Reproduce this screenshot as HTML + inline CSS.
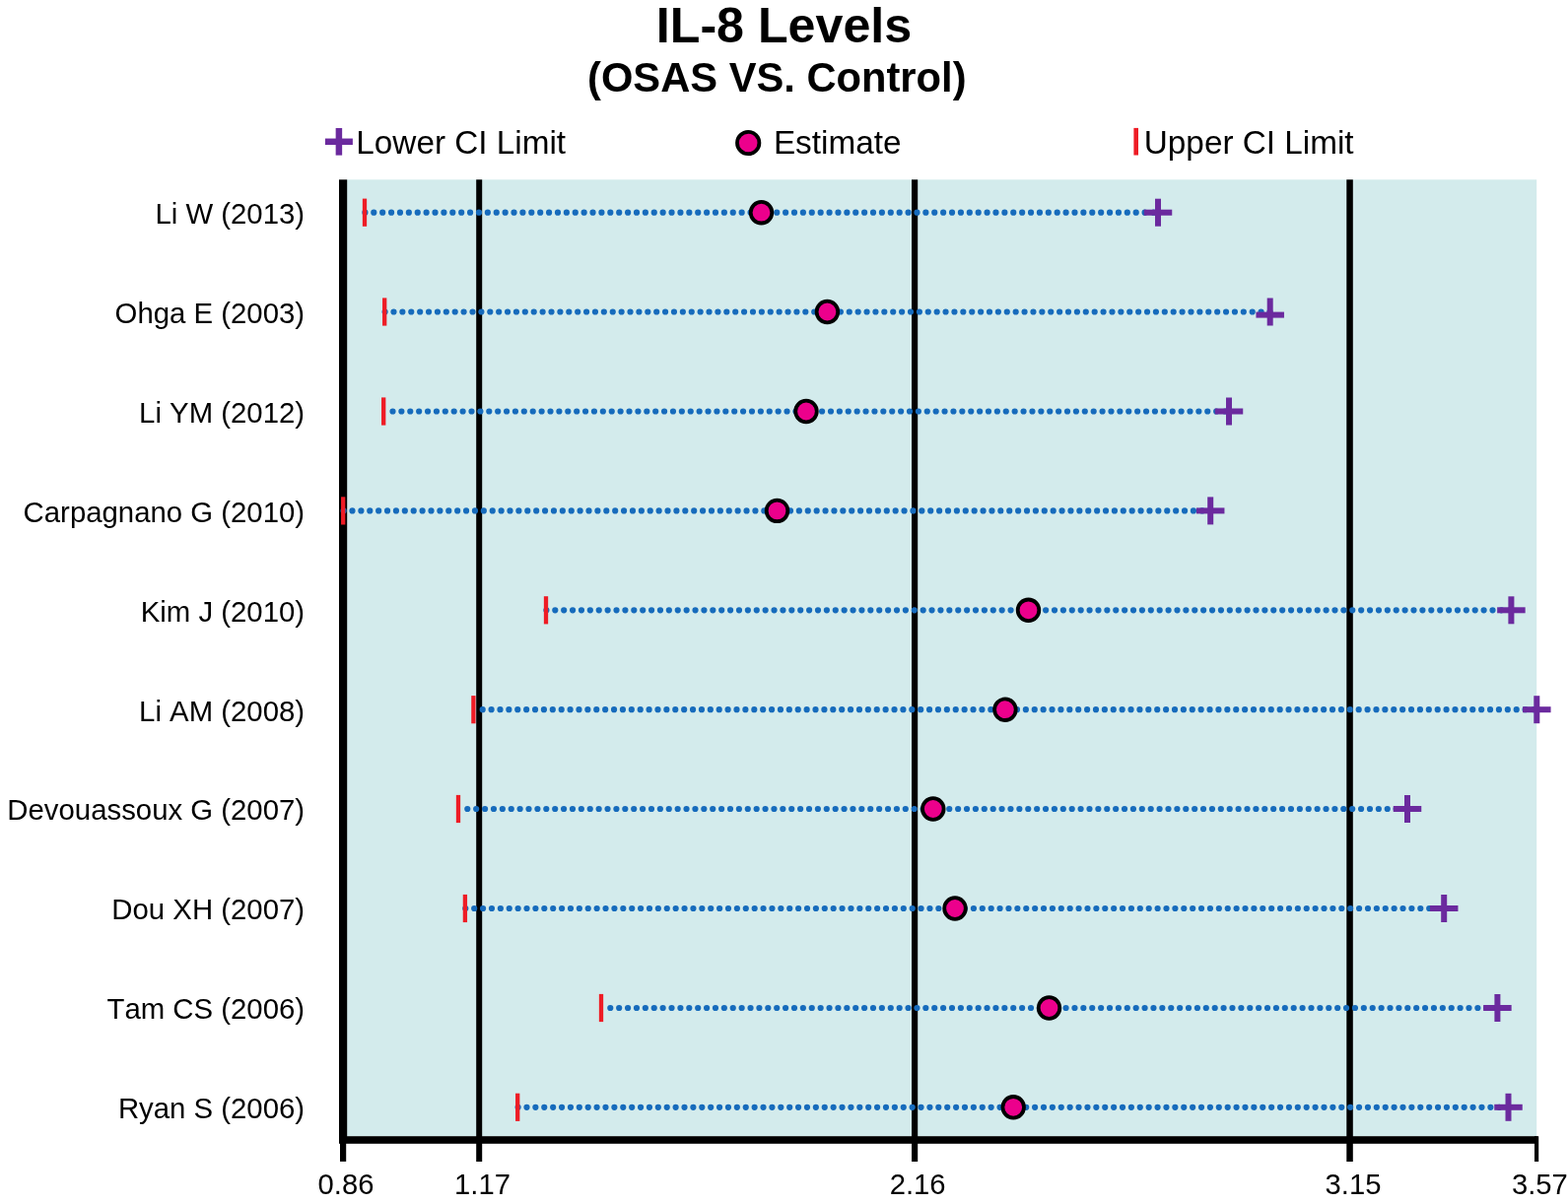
<!DOCTYPE html><html><head><meta charset="utf-8"><title>IL-8 Levels (OSAS VS. Control)</title>
<style>html,body{margin:0;padding:0;background:#fff;}body{width:1591px;height:1222px;overflow:hidden;}svg{display:block;}text{font-family:'Liberation Sans', Arial, Helvetica, sans-serif;fill:#000;font-kerning:none;font-feature-settings:"kern" 0;}</style></head><body>
<svg width="1591" height="1222" viewBox="0 0 1591 1222">
<rect x="0" y="0" width="1591" height="1222" fill="#fff"/>
<text x="795.5" y="42.8" font-size="50.2" font-weight="bold" text-anchor="middle">IL-8 Levels</text>
<text x="788.3" y="92.9" font-size="41.7" font-weight="bold" text-anchor="middle">(OSAS VS. Control)</text>
<rect x="329.90" y="140.55" width="28.00" height="6.50" fill="#6b2a9e"/><rect x="340.65" y="130.00" width="6.50" height="27.60" fill="#6b2a9e"/>
<text x="361.3" y="155.8" font-size="33.3">Lower CI Limit</text>
<circle cx="759.2" cy="145" r="11.2" fill="#ec008c" stroke="#000" stroke-width="3.8"/>
<text x="784.9" y="156.1" font-size="33.3">Estimate</text>
<rect x="1150.4" y="129.9" width="4.6" height="27.6" fill="#ee1c25"/>
<text x="1160.8" y="155.8" font-size="33.3">Upper CI Limit</text>
<rect x="352" y="182.3" width="1207.2" height="971" fill="#d3ebec"/>
<rect x="344" y="182.3" width="8.2" height="974.2" fill="#000"/>
<rect x="345" y="1156" width="6.2" height="22.9" fill="#000"/>
<rect x="483.2" y="182.3" width="6.0" height="996.7" fill="#000"/>
<rect x="925.0" y="182.3" width="6.2" height="996.7" fill="#000"/>
<rect x="1366.3" y="182.3" width="6.5" height="996.7" fill="#000"/>
<rect x="344" y="1153.2" width="1215.8" height="7.6" fill="#000"/>
<rect x="1557" y="1153.2" width="4.2" height="25.8" fill="#000"/>
<text x="351.0" y="1212.4" font-size="29.2" text-anchor="middle">0.86</text>
<text x="489.5" y="1212.4" font-size="29.2" text-anchor="middle">1.17</text>
<text x="931.2" y="1212.4" font-size="29.2" text-anchor="middle">2.16</text>
<text x="1373.0" y="1212.4" font-size="29.2" text-anchor="middle">3.15</text>
<text x="1562.4" y="1212.4" font-size="29.2" text-anchor="middle">3.57</text>
<text x="309.1" y="227.0" font-size="29.35" text-anchor="end">Li W (2013)</text>
<text x="309.1" y="327.8" font-size="29.35" text-anchor="end">Ohga E (2003)</text>
<text x="309.1" y="428.8" font-size="29.35" text-anchor="end">Li YM (2012)</text>
<text x="309.1" y="529.7" font-size="29.35" text-anchor="end">Carpagnano G (2010)</text>
<text x="309.1" y="630.6" font-size="29.35" text-anchor="end">Kim J (2010)</text>
<text x="309.1" y="731.5" font-size="29.35" text-anchor="end">Li AM (2008)</text>
<text x="309.1" y="832.3" font-size="29.35" text-anchor="end">Devouassoux G (2007)</text>
<text x="309.1" y="933.3" font-size="29.35" text-anchor="end">Dou XH (2007)</text>
<text x="309.1" y="1034.3" font-size="29.35" text-anchor="end">Tam CS (2006)</text>
<text x="309.1" y="1135.1" font-size="29.35" text-anchor="end">Ryan S (2006)</text>
<line x1="370.40" y1="215.7" x2="1175.0" y2="215.7" stroke="#166bbc" stroke-width="6.2" stroke-linecap="round" stroke-dasharray="0 8.89"/>
<line x1="390.60" y1="316.5" x2="1288.7" y2="316.5" stroke="#166bbc" stroke-width="6.2" stroke-linecap="round" stroke-dasharray="0 8.89"/>
<line x1="398.49" y1="417.5" x2="1247.0" y2="417.5" stroke="#166bbc" stroke-width="6.2" stroke-linecap="round" stroke-dasharray="0 8.89"/>
<line x1="348.60" y1="518.4" x2="1228.2" y2="518.4" stroke="#166bbc" stroke-width="6.2" stroke-linecap="round" stroke-dasharray="0 8.89"/>
<line x1="554.40" y1="619.3" x2="1533.4" y2="619.3" stroke="#166bbc" stroke-width="6.2" stroke-linecap="round" stroke-dasharray="0 8.89"/>
<line x1="489.69" y1="720.2" x2="1559.3" y2="720.2" stroke="#166bbc" stroke-width="6.2" stroke-linecap="round" stroke-dasharray="0 8.89"/>
<line x1="474.29" y1="821.0" x2="1428.0" y2="821.0" stroke="#166bbc" stroke-width="6.2" stroke-linecap="round" stroke-dasharray="0 8.89"/>
<line x1="472.30" y1="922.0" x2="1465.2" y2="922.0" stroke="#166bbc" stroke-width="6.2" stroke-linecap="round" stroke-dasharray="0 8.89"/>
<line x1="619.29" y1="1023.0" x2="1519.4" y2="1023.0" stroke="#166bbc" stroke-width="6.2" stroke-linecap="round" stroke-dasharray="0 8.89"/>
<line x1="525.60" y1="1123.8" x2="1530.5" y2="1123.8" stroke="#166bbc" stroke-width="6.2" stroke-linecap="round" stroke-dasharray="0 8.89"/>
<rect x="367.85" y="201.60" width="4.3" height="28.2" fill="#ee1c25"/>
<rect x="388.05" y="302.40" width="4.3" height="28.2" fill="#ee1c25"/>
<rect x="387.05" y="403.40" width="4.3" height="28.2" fill="#ee1c25"/>
<rect x="346.05" y="504.30" width="4.3" height="28.2" fill="#ee1c25"/>
<rect x="551.85" y="605.20" width="4.3" height="28.2" fill="#ee1c25"/>
<rect x="478.25" y="706.10" width="4.3" height="28.2" fill="#ee1c25"/>
<rect x="462.85" y="806.90" width="4.3" height="28.2" fill="#ee1c25"/>
<rect x="469.75" y="907.90" width="4.3" height="28.2" fill="#ee1c25"/>
<rect x="607.85" y="1008.90" width="4.3" height="28.2" fill="#ee1c25"/>
<rect x="523.05" y="1109.70" width="4.3" height="28.2" fill="#ee1c25"/>
<circle cx="772.5" cy="215.7" r="10.8" fill="#ec008c" stroke="#000" stroke-width="3.8"/>
<circle cx="839.4" cy="316.5" r="10.8" fill="#ec008c" stroke="#000" stroke-width="3.8"/>
<circle cx="818.0" cy="417.5" r="10.8" fill="#ec008c" stroke="#000" stroke-width="3.8"/>
<circle cx="788.5" cy="518.4" r="10.8" fill="#ec008c" stroke="#000" stroke-width="3.8"/>
<circle cx="1043.5" cy="619.3" r="10.8" fill="#ec008c" stroke="#000" stroke-width="3.8"/>
<circle cx="1019.9" cy="720.2" r="10.8" fill="#ec008c" stroke="#000" stroke-width="3.8"/>
<circle cx="946.8" cy="821.0" r="10.8" fill="#ec008c" stroke="#000" stroke-width="3.8"/>
<circle cx="969.0" cy="922.0" r="10.8" fill="#ec008c" stroke="#000" stroke-width="3.8"/>
<circle cx="1064.5" cy="1023.0" r="10.8" fill="#ec008c" stroke="#000" stroke-width="3.8"/>
<circle cx="1028.2" cy="1123.8" r="10.8" fill="#ec008c" stroke="#000" stroke-width="3.8"/>
<rect x="1160.75" y="212.70" width="28.50" height="6.00" fill="#6b2a9e"/><rect x="1172.00" y="201.70" width="6.00" height="28.00" fill="#6b2a9e"/>
<rect x="1274.45" y="316.60" width="28.50" height="6.00" fill="#6b2a9e"/><rect x="1285.70" y="302.50" width="6.00" height="28.00" fill="#6b2a9e"/>
<rect x="1232.75" y="414.50" width="28.50" height="6.00" fill="#6b2a9e"/><rect x="1244.00" y="403.50" width="6.00" height="28.00" fill="#6b2a9e"/>
<rect x="1213.95" y="515.40" width="28.50" height="6.00" fill="#6b2a9e"/><rect x="1225.20" y="504.40" width="6.00" height="28.00" fill="#6b2a9e"/>
<rect x="1519.15" y="616.30" width="28.50" height="6.00" fill="#6b2a9e"/><rect x="1530.40" y="605.30" width="6.00" height="28.00" fill="#6b2a9e"/>
<rect x="1545.05" y="717.20" width="28.50" height="6.00" fill="#6b2a9e"/><rect x="1556.30" y="706.20" width="6.00" height="28.00" fill="#6b2a9e"/>
<rect x="1413.75" y="818.00" width="28.50" height="6.00" fill="#6b2a9e"/><rect x="1425.00" y="807.00" width="6.00" height="28.00" fill="#6b2a9e"/>
<rect x="1450.95" y="919.00" width="28.50" height="6.00" fill="#6b2a9e"/><rect x="1462.20" y="908.00" width="6.00" height="28.00" fill="#6b2a9e"/>
<rect x="1505.15" y="1020.00" width="28.50" height="6.00" fill="#6b2a9e"/><rect x="1516.40" y="1009.00" width="6.00" height="28.00" fill="#6b2a9e"/>
<rect x="1516.25" y="1120.80" width="28.50" height="6.00" fill="#6b2a9e"/><rect x="1527.50" y="1109.80" width="6.00" height="28.00" fill="#6b2a9e"/>
</svg></body></html>
